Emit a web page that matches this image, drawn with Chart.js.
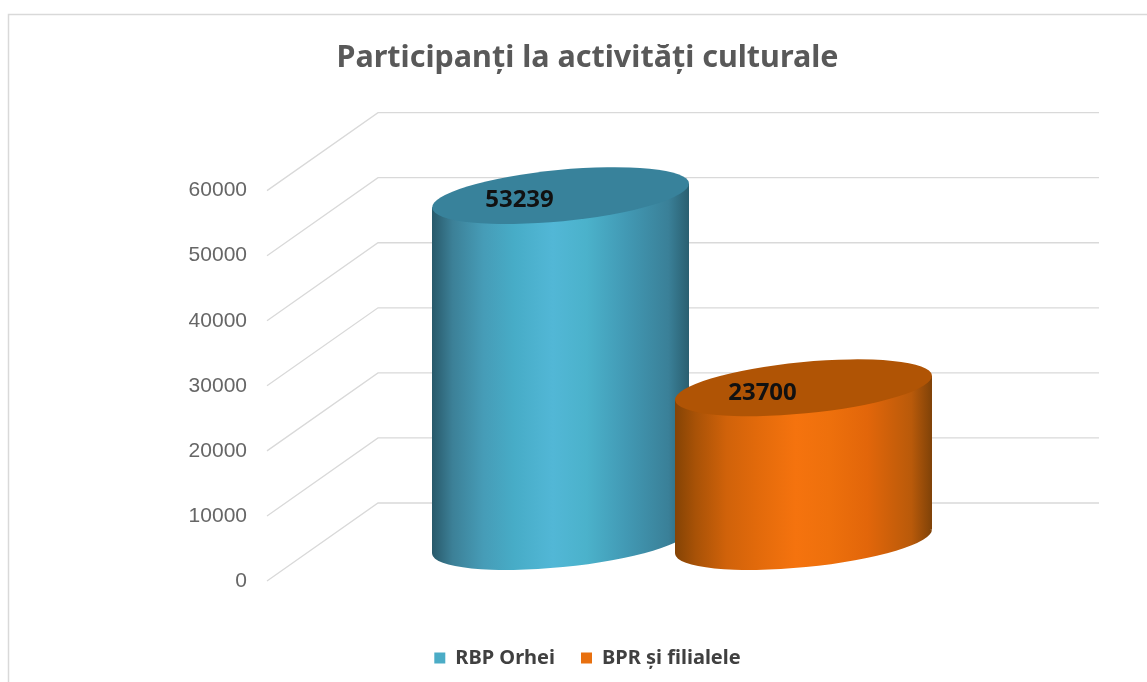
<!DOCTYPE html>
<html lang="ro">
<head>
<meta charset="utf-8">
<title>Participanți la activități culturale</title>
<script src="https://cdn.jsdelivr.net/npm/chart.js@4"></script>
<style>
  body { margin: 0; background: #fff; }
  canvas { display: block; }
</style>
</head>
<body>
<canvas id="chart" width="1147" height="682"></canvas>
<script>
// date
const categories = ["RBP Orhei", "BPR și filialele"];
const values = [53239, 23700];
const tickValues = [0, 10000, 20000, 30000, 40000, 50000, 60000];
const seriesColors = ["#4bacc6", "#e8700f"];
const topColors = ["#38829b", "#b05405"];
const sideColors = [
  ["#28596a", "#3c8097", "#469cb7", "#47acc7", "#52b7d6", "#4bb2cb", "#429ab5", "#3a8098", "#2a5f70"],
  ["#844305", "#a85207", "#d0620a", "#e26a0b", "#f5730e", "#ee700c", "#e2660a", "#b95a0a", "#7f4208"],
];
const sideStops = [0, 0.08, 0.2, 0.32, 0.47, 0.6, 0.75, 0.92, 1];

// perspectiva falsa
const DEPTH_X = 111;
const DEPTH_Y = 78;
const BAR_LIFT = 39;
const TILT = (-5.55 * Math.PI) / 180;

function cylinder(ctx, el, i) {
  const a = el.width * 0.502;
  const b = el.width * 0.1;
  const half = el.width / 2;
  const skew = half * 0.0934;
  const top = el.y - BAR_LIFT;
  const bottom = el.base - BAR_LIFT;
  const left = el.x - half;
  const right = el.x + half;

  const grad = ctx.createLinearGradient(left, 0, right, 0);
  sideStops.forEach((s, k) => grad.addColorStop(s, sideColors[i][k]));

  ctx.save();
  ctx.beginPath();
  ctx.moveTo(left, top + skew);
  ctx.lineTo(right, top - skew);
  ctx.lineTo(right, bottom - skew);
  ctx.lineTo(left, bottom + skew);
  ctx.closePath();
  ctx.moveTo(el.x + a, bottom);
  ctx.ellipse(el.x, bottom, a, b, TILT, 0, Math.PI * 2);
  ctx.fillStyle = grad;
  ctx.fill();

  ctx.beginPath();
  ctx.ellipse(el.x, top, a, b, TILT, 0, Math.PI * 2);
  ctx.fillStyle = topColors[i];
  ctx.fill();
  ctx.restore();
}

const look3d = {
  id: "look3d",
  beforeDraw(chart) {
    const ctx = chart.ctx;
    ctx.save();
    ctx.strokeStyle = "#d9d9d9";
    ctx.lineWidth = 1.5;
    ctx.beginPath();
    ctx.moveTo(8.5, 682);
    ctx.lineTo(8.5, 14.5);
    ctx.lineTo(1147, 14.5);
    ctx.stroke();
    ctx.restore();
  },
  beforeDatasetsDraw(chart) {
    const ctx = chart.ctx;
    const y = chart.scales.y;
    ctx.save();
    ctx.strokeStyle = "#d9d9d9";
    ctx.lineWidth = 1.3;
    tickValues.forEach((v) => {
      const py = y.getPixelForValue(v);
      ctx.beginPath();
      ctx.moveTo(267, py);
      ctx.lineTo(267 + DEPTH_X, py - DEPTH_Y);
      ctx.lineTo(1099, py - DEPTH_Y);
      ctx.stroke();
    });
    ctx.restore();
  },
  beforeDatasetDraw(chart, args) {
    chart.getDatasetMeta(args.index).data.forEach((el, i) => cylinder(chart.ctx, el, i));
    return false;
  },
  afterDatasetsDraw(chart) {
    const ctx = chart.ctx;
    ctx.save();
    ctx.font = "bold 24px 'Noto Sans'";
    ctx.fillStyle = "#111";
    ctx.textAlign = "center";
    ctx.textBaseline = "middle";
    chart.getDatasetMeta(0).data.forEach((el, i) => {
      ctx.fillText(values[i], el.x - 41, el.y - BAR_LIFT + 5);
    });
    ctx.restore();
  },
};

new Chart(document.getElementById("chart"), {
  type: "bar",
  data: {
    labels: categories,
    datasets: [{ data: values, backgroundColor: seriesColors, barPercentage: 1.0576, categoryPercentage: 1 }],
  },
  plugins: [look3d],
  options: {
    responsive: false,
    animation: false,
    layout: { padding: { left: 28, bottom: 4 } },
    scales: {
      x: {
        grid: { display: false, drawTicks: false },
        border: { display: false },
        ticks: { display: false },
        afterFit(s) { s.height = 41; },
      },
      y: {
        min: 0,
        max: 60000,
        // tickLength tine etichetele departe de zona barelor
        grid: { color: "transparent", drawOnChartArea: false, tickLength: 192 },
        border: { display: false },
        afterFit(s) { s.width = 411; },
        ticks: {
          stepSize: 10000,
          padding: 0,
          color: "#666",
          font: { family: "'Liberation Sans'", size: 21 },
          callback: (v) => String(v),
        },
      },
      right: {
        position: "right",
        grid: { display: false, drawTicks: false },
        border: { display: false },
        ticks: { display: false },
        afterFit(s) { s.width = 222; },
      },
    },
    plugins: {
      tooltip: { enabled: false },
      title: {
        display: true,
        text: "Participanți la activități culturale",
        color: "#595959",
        font: { family: "'Noto Sans'", size: 30.5, weight: "bold" },
        padding: { top: 40, bottom: 114 },
      },
      legend: {
        position: "bottom",
        onClick: null,
        labels: {
          boxWidth: 11,
          boxHeight: 11,
          padding: 26,
          color: "#404040",
          font: { family: "'Noto Sans'", size: 20, weight: "bold" },
          generateLabels: () =>
            categories.map((text, i) => ({
              text,
              fillStyle: seriesColors[i],
              strokeStyle: seriesColors[i],
              fontColor: "#404040",
              lineWidth: 0,
              datasetIndex: 0,
              index: i,
            })),
        },
      },
    },
  },
});
</script>
</body>
</html>
